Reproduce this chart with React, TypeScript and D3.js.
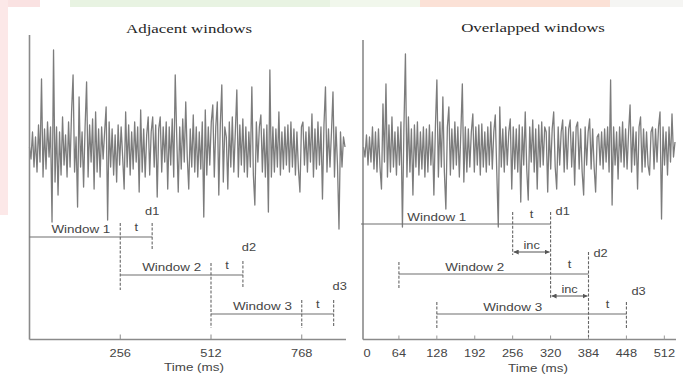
import React from "react";
import * as d3 from "d3";

// Signal amplitudes (arbitrary units, baseline 0)
const adjacentSignal = [
  0, -12, 15, -20, 10, -25, 22, -15, 68, -30,
  18, -22, 25, -10, 20, -75, 97, -35, 20, -48,
  15, -28, 30, -18, 12, -30, 25, -20, 35, 72,
  -25, 10, -60, 50, -20, 15, -40, 20, 65, -30,
  22, -15, 28, -42, 35, -25, 18, -30, 20, -12,
  15, 40, -73, 25, -20, 18, -28, 12, -35, 22,
  -18, 20, -10, -42, 35, -20, 22, -28, 15, -22,
  25, -15, 20, -45, 37, -25, 18, -30, 12, 30,
  -28, 15, 30, -20, 22, -50, 18, 30, -25, 20,
  -15, 25, -42, 20, -18, 28, -30, 72, 10, -45,
  20, -22, 28, -15, 45, -10, -42, 18, -20, 32,
  -25, 20, -30, 15, -22, 25, -70, 37, -28, 20,
  -18, 25, 42, -30, 20, 45, -48, 22, 62, -35,
  20, 10, -42, 25, -20, 30, -25, 15, 57, -30,
  22, -18, 28, -25, 20, -30, 15, -20, 60, -28,
  -58, 25, -15, 20, 32, -25, 18, -30, 22, -65,
  77, -30, 20, -25, 18, -20, 35, -28, 15, -22,
  20, -18, 22, -25, 25, -20, 18, -28, 15, -22,
  -45, 20, 25, -18, 15, -25, 20, -15, 33, -30,
  18, -22, 25, -18, 20, -52, 22, 60, -25, 18,
  -20, 15, 55, -30, 20, -18, -82, 15, -20, 10, 0,
];

const overlappedSignal = [
  0, -10, 12, -18, 10, -15, 20, -22, 15, -25,
  18, -20, -42, 43, -15, 63, -30, 22, -25, 30,
  -20, 15, -28, 20, -18, 25, -80, 20, 93, -30,
  30, -25, 18, -48, 22, -20, 25, -28, 15, -22,
  20, -30, 18, -25, 22, -18, 15, -48, 20, 67,
  -30, 25, -20, 50, -25, -62, 20, 40, -28, 18,
  -22, 25, -18, 20, -30, 15, 63, -35, 20, -25,
  18, -20, 15, 33, -25, 20, -18, 22, -28, 23,
  -20, 15, -25, 20, -18, 25, -22, 15, 32, -25,
  -80, 40, -20, 18, -25, 20, -18, 15, 28, -42,
  20, -22, 18, -25, 22, -55, 20, -18, 35, -22,
  -53, 20, -15, 27, -25, 18, -42, 22, -20, 25,
  -18, 20, 15, -45, 20, -22, 18, 35, -20, -42,
  20, -18, 15, 27, -25, 20, -22, 18, 27, -20,
  15, -38, 20, 25, -22, 18, -25, -48, 20, -18,
  15, 28, -22, 18, -20, -45, 10, 13, -18, 15,
  -22, 18, -15, 20, -25, 67, -58, 20, -18, 15,
  -32, 20, -15, 25, -20, 18, -22, 15, 42, -25,
  20, -18, 15, -42, 20, 30, -25, 18, -20, 15,
  -18, -28, 15, 20, -22, 18, -15, 20, 35, -72,
  20, -18, 15, -28, 20, -15, 33, -10, 5,
];

// Axis ticks (ms)
const adjacentTicks = [256, 512, 768];
const overlappedTicks = [0, 64, 128, 192, 256, 320, 384, 448, 512];

// Windows (ms)
const windowLength = 256;
const adjacentStarts = [0, 256, 512];
const adjacentT = 90;
const overlappedStarts = [0, 64, 128];
const overlappedT = 64;
const windowNames = ["Window 1", "Window 2", "Window 3"];
const dNames = ["d1", "d2", "d3"];

const SANS = "'Liberation Sans', Arial, sans-serif";
const SERIF = "'Liberation Serif', 'Times New Roman', serif";
const GREY = "#7c7c7c";
const TXT = "#454545";
const SX = 1.28;

function Label({ x, y, children, size = 11, anchor = "middle", serif = false, fill = TXT, sx = SX }: any) {
  return (
    <text
      transform={`translate(${x},${y}) scale(${sx},1)`}
      textAnchor={anchor}
      fontSize={size}
      fontFamily={serif ? SERIF : SANS}
      fill={fill}
    >
      {children}
    </text>
  );
}

function Dash({ x, y0, y1 }: any) {
  return <line x1={x} x2={x} y1={y0} y2={y1} stroke="#666" strokeWidth={1.1} strokeDasharray="3,1.6" />;
}

export default function App() {
  const baseY = 147;
  const y = d3.scaleLinear().domain([-100, 100]).range([baseY + 100, baseY - 100]);

  // Left panel
  const xL = d3.scaleLinear().domain([0, 890]).range([29.5, 345]);
  const sL = d3.scaleLinear().domain([0, adjacentSignal.length - 1]).range([29.5, 345]);
  const lineL = d3.line<number>().x((_, i) => sL(i)).y((d) => y(d));

  // Right panel
  const xR = d3.scaleLinear().domain([0, 530]).range([361, 675]);
  const sR = d3.scaleLinear().domain([0, overlappedSignal.length - 1]).range([363.5, 675]);
  const lineR = d3.line<number>().x((_, i) => sR(i)).y((d) => y(d));

  const axisY = 339.5;
  const barsL = [237, 275, 314];
  const barsR = [224, 274, 314];
  const incY = [252, 296];

  return (
    <div>
      <style>{`body{margin:0;background:#fff}`}</style>
      <svg width={683} height={376} style={{ display: "block" }}>
        <defs>
          <marker id="arrL" viewBox="0 0 6 6" refX="0" refY="3" markerWidth="5" markerHeight="5" orient="auto">
            <path d="M6,0 L0,3 L6,6 z" fill="#555" />
          </marker>
          <marker id="arrR" viewBox="0 0 6 6" refX="6" refY="3" markerWidth="5" markerHeight="5" orient="auto">
            <path d="M0,0 L6,3 L0,6 z" fill="#555" />
          </marker>
        </defs>
        <rect width={683} height={376} fill="#fff" />
        {/* watermark background fragments */}
        <rect x={0} y={0} width={40} height={7} fill="#fae2e2" />
        <rect x={0} y={0} width={8} height={215} fill="#fce8e8" />
        <rect x={70} y={0} width={260} height={7} fill="#e8f3e2" />
        <rect x={330} y={0} width={90} height={7} fill="#f1f7ec" />
        <rect x={420} y={0} width={190} height={7} fill="#fbe1d6" />
        <rect x={610} y={0} width={73} height={7} fill="#f5f5f3" />

        {/* Titles */}
        <Label x={189} y={33} size={13.5} serif fill="#262626" sx={1.25}>Adjacent windows</Label>
        <Label x={533} y={32} size={13.5} serif fill="#262626" sx={1.25}>Overlapped windows</Label>

        {/* Signals */}
        <path d={lineL(adjacentSignal) || ""} fill="none" stroke={GREY} strokeWidth={1.3} strokeLinejoin="round" />
        <path d={lineR(overlappedSignal) || ""} fill="none" stroke={GREY} strokeWidth={1.3} strokeLinejoin="round" />

        {/* Axes left */}
        <line x1={29.5} x2={29.5} y1={35} y2={axisY} stroke="#8a8a8a" strokeWidth={1.6} />
        <line x1={29.5} x2={346} y1={axisY} y2={axisY} stroke="#8a8a8a" strokeWidth={1.6} />
        {adjacentTicks.map((t) => (
          <g key={"lt" + t}>
            <line x1={xL(t)} x2={xL(t)} y1={axisY} y2={axisY - 5} stroke="#8a8a8a" strokeWidth={1} />
            <Label x={xL(t)} y={357} size={10}>{t}</Label>
          </g>
        ))}
        <Label x={194} y={371} size={10.5}>Time (ms)</Label>

        {/* Axes right */}
        <line x1={363} x2={363} y1={40} y2={axisY} stroke="#8a8a8a" strokeWidth={1.6} />
        <line x1={363} x2={676} y1={axisY} y2={axisY} stroke="#8a8a8a" strokeWidth={1.6} />
        {overlappedTicks.map((t) => (
          <g key={"rt" + t}>
            {t > 0 && <line x1={xR(t)} x2={xR(t)} y1={axisY} y2={axisY - 4} stroke="#9a9a9a" strokeWidth={1} />}
            <Label x={t === 0 ? 367 : xR(t)} y={357} size={10}>{t}</Label>
          </g>
        ))}
        <Label x={538} y={372} size={10.5}>Time (ms)</Label>

        {/* Left annotations: adjacent windows */}
        {adjacentStarts.map((s, k) => {
          const by = barsL[k];
          const b = s + windowLength;
          const e = b + adjacentT;
          return (
            <g key={"lw" + k}>
              <line x1={xL(s)} x2={xL(e)} y1={by} y2={by} stroke="#6e6e6e" strokeWidth={1.2} />
              <Label x={xL(s + windowLength / 2) + 6} y={by - 4} size={10.5}>{windowNames[k]}</Label>
              <Label x={xL(b + adjacentT / 2)} y={by - 6} size={10}>t</Label>
              <Label x={xL(e) + (k === 0 ? 0 : 6)} y={by - (k === 0 ? 22 : 24)} size={10}>{dNames[k]}</Label>
              <Dash x={xL(e)} y0={by - 14} y1={by + 13} />
              {k === 2 && <Dash x={xL(b)} y0={by - 14} y1={by + 14} />}
            </g>
          );
        })}
        <Dash x={xL(256)} y0={223} y1={290} />
        <Dash x={xL(512)} y0={263} y1={328} />

        {/* Right annotations: overlapped windows */}
        {overlappedStarts.map((s, k) => {
          const by = barsR[k];
          const b = s + windowLength;
          const e = b + overlappedT;
          return (
            <g key={"rw" + k}>
              <line x1={xR(s)} x2={xR(e)} y1={by} y2={by} stroke="#6e6e6e" strokeWidth={1.2} />
              <Label x={xR(s + windowLength / 2)} y={by - 3} size={10.5}>{windowNames[k]}</Label>
              <Label x={xR(b + overlappedT / 2)} y={by - 6} size={10}>t</Label>
              <Label x={xR(e) + 5} y={by - [9, 17, 19][k]} size={10} anchor="start">{dNames[k]}</Label>
              {k > 0 && <Dash x={xR(s)} y0={by - 12} y1={by + 14} />}
            </g>
          );
        })}
        {incY.map((iy, k) => {
          const a = overlappedStarts[k] + windowLength;
          const b = a + overlappedT;
          return (
            <g key={"inc" + k}>
              <line x1={xR(a) + 1} x2={xR(b) - 1} y1={iy} y2={iy} stroke="#555" strokeWidth={1}
                markerStart="url(#arrL)" markerEnd="url(#arrR)" />
              <Label x={xR((a + b) / 2)} y={iy - 3} size={10}>inc</Label>
            </g>
          );
        })}
        <Dash x={xR(256)} y0={212} y1={255} />
        <Dash x={xR(320)} y0={212} y1={298} />
        <Dash x={xR(384)} y0={252} y1={337} />
        <Dash x={xR(448)} y0={302} y1={328} />
      </svg>
    </div>
  );
}
